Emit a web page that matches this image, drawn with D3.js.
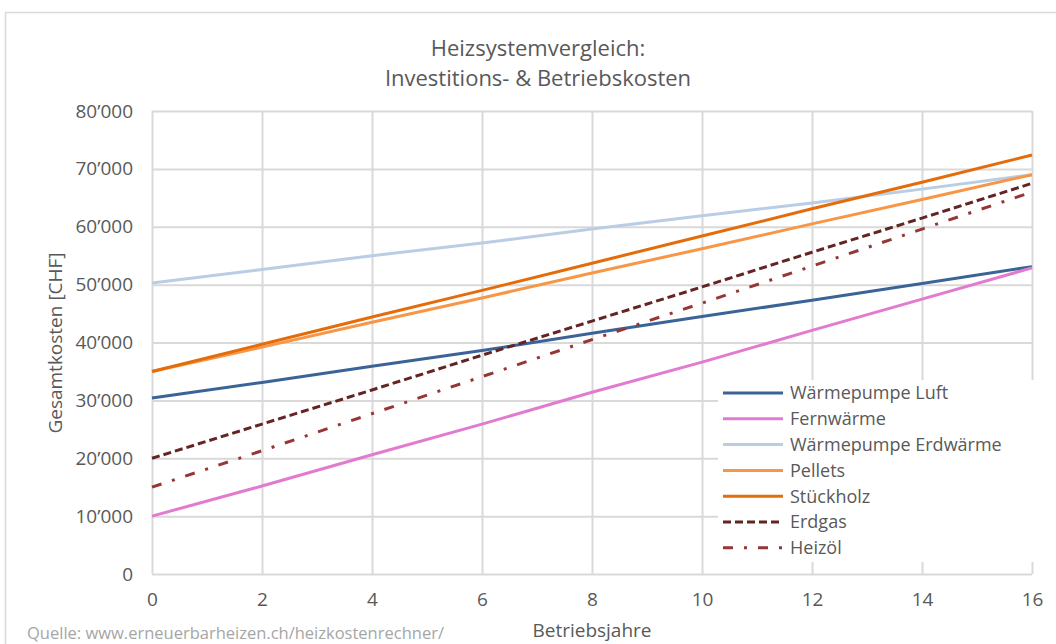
<!DOCTYPE html>
<html>
<head>
<meta charset="utf-8">
<script src="https://cdn.jsdelivr.net/npm/d3@7"></script>
<style>
  body { margin: 0; background: #fff; overflow: hidden; }
  text { font-family: "Open Sans", sans-serif; fill: #595959; }
</style>
</head>
<body>
<svg id="chart" width="1056" height="644"></svg>
<script>
const years = [0, 2, 4, 6, 8, 10, 12, 14, 16];
const yTicks = [0, 10000, 20000, 30000, 40000, 50000, 60000, 70000, 80000];

const wpLuft = [30400, 33100, 35900, 38600, 41600, 44500, 47300, 50200, 53100];
const fernwaerme = [10000, 15200, 20600, 25900, 31400, 36600, 42100, 47500, 52900];
const wpErdwaerme = [50300, 52600, 55000, 57200, 59600, 61900, 64100, 66500, 69000];
const pellets = [35000, 39200, 43500, 47700, 52000, 56200, 60500, 64700, 69000];
const stueckholz = [35000, 39700, 44400, 49000, 53700, 58400, 63100, 67700, 72400];
const erdgas = [20000, 25900, 31800, 37800, 43700, 49600, 55600, 61500, 67500];
const heizoel = [15000, 21300, 27700, 34100, 40500, 46800, 53200, 59600, 66000];

const series = [
  { name: "Wärmepumpe Luft", values: wpLuft, color: "#3b6397", dash: null },
  { name: "Fernwärme", values: fernwaerme, color: "#e27bd0", dash: null },
  { name: "Wärmepumpe Erdwärme", values: wpErdwaerme, color: "#b9cde5", dash: null },
  { name: "Pellets", values: pellets, color: "#f79646", dash: null },
  { name: "Stückholz", values: stueckholz, color: "#e46c0a", dash: null },
  { name: "Erdgas", values: erdgas, color: "#632523", dash: "8,4" },
  { name: "Heizöl", values: heizoel, color: "#953735", dash: "10,11,3,11" },
];

const margin = { top: 111, right: 24, bottom: 70, left: 152 };
const width = 1056 - margin.left - margin.right;
const height = 644 - margin.top - margin.bottom;

const svg = d3.select("#chart");

// chart frame (cut off by the window at right and bottom)
svg.append("rect")
  .attr("x", 5.5).attr("y", 12.5)
  .attr("width", 1100).attr("height", 700)
  .attr("fill", "none")
  .attr("stroke", "#d9d9d9")
  .attr("stroke-width", 1.5);

const g = svg.append("g").attr("transform", `translate(${margin.left},${margin.top})`);

const x = d3.scaleLinear().domain([0, 16]).range([0, width]);
const y = d3.scaleLinear().domain([0, 80000]).range([height, 0]);

const fmt = (v) => d3.format(",")(v).replace(/,/g, "’");

// gridlines
g.append("g")
  .attr("class", "grid-y")
  .call(d3.axisLeft(y).tickValues(yTicks).tickSize(-width).tickFormat(""))
  .call((s) => s.select(".domain").remove())
  .selectAll("line").attr("stroke", "#d9d9d9").attr("stroke-width", 2);

g.append("g")
  .attr("class", "grid-x")
  .attr("transform", `translate(0,${height})`)
  .call(d3.axisBottom(x).tickValues(years).tickSize(-height).tickFormat(""))
  .call((s) => s.select(".domain").remove())
  .selectAll("line").attr("stroke", "#d9d9d9").attr("stroke-width", 2);

// axis labels
const yAxis = g.append("g")
  .call(d3.axisLeft(y).tickValues(yTicks).tickSize(0).tickPadding(19).tickFormat(fmt));
yAxis.select(".domain").remove();
yAxis.selectAll("text").style("font-size", "19px").style("fill", "#595959").style("font-family", "Open Sans");

const xAxis = g.append("g")
  .attr("transform", `translate(0,${height})`)
  .call(d3.axisBottom(x).tickValues(years).tickSize(0).tickPadding(19));
xAxis.select(".domain").remove();
xAxis.selectAll("text").style("font-size", "19px").style("fill", "#595959").style("font-family", "Open Sans");

// lines
const line = d3.line()
  .x((d, i) => x(years[i]))
  .y((d) => y(d));

series.forEach((s) => {
  g.append("path")
    .datum(s.values)
    .attr("fill", "none")
    .attr("stroke", s.color)
    .attr("stroke-width", 3)
    .attr("stroke-dasharray", s.dash)
    .attr("d", line);
});

// legend
const legend = svg.append("g").attr("transform", "translate(718,380)");
legend.append("rect")
  .attr("width", 322).attr("height", 182)
  .attr("fill", "#fff");

series.forEach((s, i) => {
  const row = legend.append("g").attr("transform", `translate(0,${13 + i * 25.8})`);
  row.append("line")
    .attr("x1", 5).attr("x2", 65)
    .attr("stroke", s.color)
    .attr("stroke-width", 3)
    .attr("stroke-dasharray", s.dash);
  row.append("text")
    .attr("x", 72).attr("dy", "0.35em")
    .style("font-size", "18px")
    .text(s.name);
});

// titles
svg.append("text")
  .attr("x", 538).attr("y", 56)
  .attr("text-anchor", "middle")
  .style("font-size", "22px")
  .text("Heizsystemvergleich:");
svg.append("text")
  .attr("x", 538).attr("y", 86)
  .attr("text-anchor", "middle")
  .style("font-size", "22px")
  .text("Investitions- & Betriebskosten");

svg.append("text")
  .attr("transform", "translate(62,343) rotate(-90)")
  .attr("text-anchor", "middle")
  .style("font-size", "19px")
  .text("Gesamtkosten [CHF]");

svg.append("text")
  .attr("x", 592).attr("y", 637)
  .attr("text-anchor", "middle")
  .style("font-size", "19px")
  .text("Betriebsjahre");

svg.append("text")
  .attr("x", 27).attr("y", 639)
  .style("font-size", "16.5px")
  .style("fill", "#a6a6a6")
  .text("Quelle: www.erneuerbarheizen.ch/heizkostenrechner/");
</script>
</body>
</html>
